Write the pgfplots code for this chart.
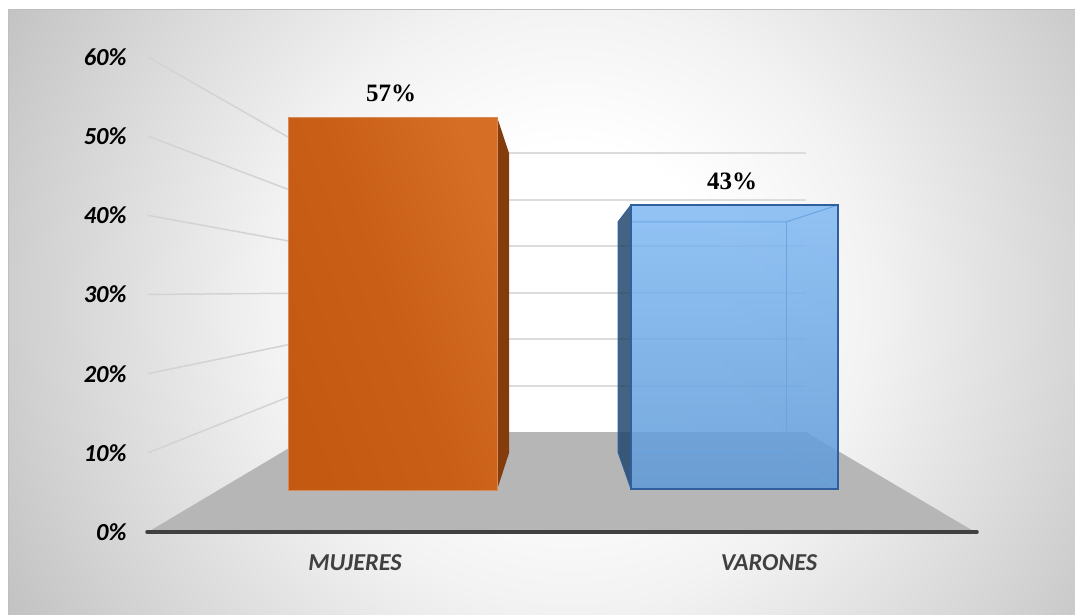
\documentclass[border=0pt]{standalone}
\usepackage{fontspec}
\setmainfont{Carlito}
\newfontfamily\labelfont{Liberation Serif}
\usepackage{pgfplots}
\pgfplotsset{compat=1.18}

\definecolor{gridc}{HTML}{DCDCDC}
\definecolor{sidec}{HTML}{D3D3D3}
\definecolor{floorc}{HTML}{B6B6B6}
\definecolor{axisc}{HTML}{404040}
\definecolor{txtc}{HTML}{404040}
\definecolor{orlo}{HTML}{C45A11}
\definecolor{orhi}{HTML}{D76E26}
\definecolor{orside}{HTML}{843C0C}
\definecolor{blhi}{HTML}{80B9F3}
\definecolor{bllo}{HTML}{5E99D8}
\definecolor{bledge}{HTML}{2F5F9F}
\definecolor{blin}{HTML}{6AA5E0}
\definecolor{blside}{HTML}{24476B}

% the path's box covers only the inner 25bp radius of a shading
\pgfdeclareradialshading{bggrad}{\pgfpointorigin}{%
  color(0bp)=(white);
  color(6bp)=(white);
  color(11.5bp)=(black!5);
  color(20.5bp)=(black!18);
  color(25bp)=(black!25);
  color(50bp)=(black!25)}

\begin{document}
\begin{tikzpicture}[x=1pt,y=1pt]
  \path[use as bounding box] (0,0) rectangle (1075,614);
  \fill[white] (0,0) rectangle (1075,614);
  % background of the chart area, a round gradient off centre
  \begin{scope}
    \clip (8,0) rectangle (1075,604);
    \path[shading=bggrad] (-90,-350) rectangle (1230,970);
  \end{scope}
  \draw[black!25, line width=1pt] (8,0) -- (8,604) -- (1075,604);

  % axis box sits at px 146..978 and 0%..60% = 532..57 from the top
  \begin{axis}[
      at={(146pt,82pt)}, anchor=south west,
      scale only axis, width=832pt, height=475pt,
      xmin=146, xmax=978, ymin=0, ymax=60,
      clip=false,
      axis x line*=bottom, axis y line*=left,
      y axis line style={draw=none},
      x axis line style={draw=none, -},
      major tick style={draw=none},
      ytick={0,10,20,30,40,50,60},
      yticklabel={\pgfmathprintnumber{\tick}\%},
      /pgf/number format/assume math mode=true,
      yticklabel style={font=\fontsize{24.5}{26}\selectfont\bfseries\itshape, text=black, xshift=-16pt},
      xtick={355,769},
      xticklabels={MUJERES,VARONES},
      xticklabel style={font=\fontsize{24.3}{26}\selectfont\bfseries\itshape, text=txtc, yshift=-19pt},
  ]
  % side walls, gridlines from the left ticks to the back
  \addplot[sidec, line width=1.5pt] coordinates {(148,10) (316,18.44)};
  \addplot[sidec, line width=1.5pt] coordinates {(148,20) (316,24.38)};
  \addplot[sidec, line width=1.5pt] coordinates {(148,30) (316,30.19)};
  \addplot[sidec, line width=1.5pt] coordinates {(148,40) (316,36.13)};
  \addplot[sidec, line width=1.5pt] coordinates {(148,50) (316,41.94)};
  \addplot[sidec, line width=1.5pt] coordinates {(148,60) (316,47.87)};
  % back wall
  \addplot[gridc, line width=1.5pt] coordinates {(316,18.44) (806,18.44)};
  \addplot[gridc, line width=1.5pt] coordinates {(316,24.38) (806,24.38)};
  \addplot[gridc, line width=1.5pt] coordinates {(316,30.19) (806,30.19)};
  \addplot[gridc, line width=1.5pt] coordinates {(316,36.13) (806,36.13)};
  \addplot[gridc, line width=1.5pt] coordinates {(316,41.94) (806,41.94)};
  \addplot[gridc, line width=1.5pt] coordinates {(316,47.87) (806,47.87)};
  % floor
  \addplot[draw=none, fill=floorc] coordinates {(148,0) (316,12.63) (806,12.63) (975,0)} \closedcycle;
  % front edge of the floor
  \addplot[axisc, line width=3.5pt, line cap=round] coordinates {(147,0) (977,0)};

  % MUJERES
  \addplot[draw=none, fill=orside] coordinates {(497,52.42) (509,47.87) (509,9.98) (497,5.31)} -- cycle;
  \addplot[draw=orlo!70!white, line width=0.5pt, bottom color=orlo, top color=orhi, middle color=orlo!72!orhi, shading angle=-70]
    coordinates {(288,5.31) (288,52.42) (497,52.42) (497,5.31)} -- cycle;

  % VARONES, glass box
  \addplot[draw=none, fill=blside, fill opacity=0.85] coordinates {(618,39.16) (631,41.31) (631,5.43) (618,10.11)} -- cycle;
  \addplot[draw=bledge, line width=1pt] coordinates {(618,10.11) (618,39.16) (631,41.31)};
  \addplot[draw=bledge, line width=1pt] coordinates {(618,10.11) (631,5.43)};
  \addplot[draw=none, top color=blhi, bottom color=bllo, fill opacity=0.85]
    coordinates {(631,5.43) (631,41.31) (838,41.31) (838,5.43)} -- cycle;
  \addplot[blin, line width=1pt] coordinates {(631,39.16) (786,39.16) (838,41.31)};
  \addplot[blin, line width=1pt] coordinates {(786,39.16) (786,10.11)};
  \addplot[blin, line width=1pt] coordinates {(631,10.11) (786,10.11) (838,5.43)};
  \addplot[draw=bledge, line width=1.5pt] coordinates {(631,5.43) (631,41.31) (838,41.31) (838,5.43)} -- cycle;

  % value labels
  \addplot[only marks, mark=none, nodes near coords={\labelfont\bfseries\fontsize{25}{27}\selectfont\pgfplotspointmeta\%},
     nodes near coords align={center}, point meta=explicit symbolic]
     coordinates {(391,55.4) [57] (732,44.3) [43]};
  \end{axis}
\end{tikzpicture}
\end{document}
